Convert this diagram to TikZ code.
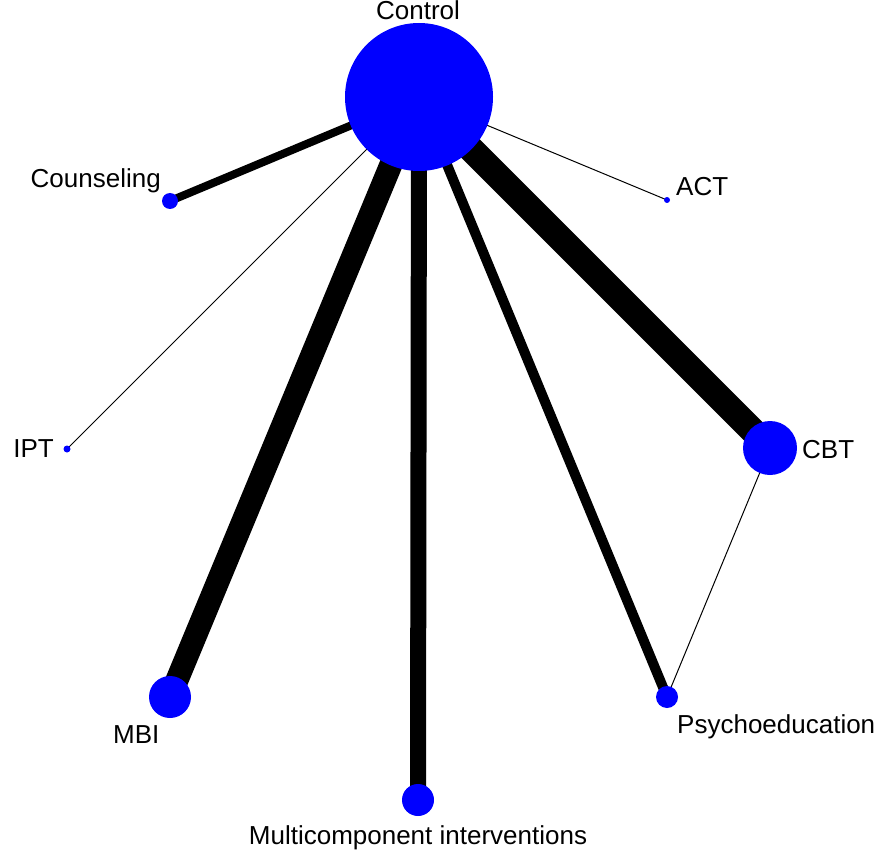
\documentclass[tikz,border=0pt]{standalone}
\usepackage{fontspec}
\setmainfont{Liberation Sans}
\usepackage{tikz}
\usetikzlibrary{positioning}
\pgfdeclarelayer{background}
\pgfsetlayers{background,main}

\begin{document}
\begin{tikzpicture}[x=1pt, y=-1pt,
    trt/.style={circle, fill=blue, inner sep=0pt},
    lbl/.style={font=\fontsize{26}{30}\selectfont, inner sep=0pt}]
    \useasboundingbox (0,0) rectangle (886,853);

    % treatments on a circle
    \node[trt, minimum size=148pt] (control) at (419,97) {};
    \node[trt, minimum size=16pt] (counseling) at (170,201) {};
    \node[trt, minimum size=6pt] (act) at (667,200) {};
    \node[trt, minimum size=7pt] (ipt) at (67,449) {};
    \node[trt, minimum size=54pt] (cbt) at (770,448) {};
    \node[trt, minimum size=42pt] (mbi) at (170,697) {};
    \node[trt, minimum size=32pt] (multi) at (418,800) {};
    \node[trt, minimum size=22pt] (psycho) at (667,697) {};

    % labels
    \node[lbl, anchor=base] (controllbl) at (418,20) {Control};
    \node[lbl, anchor=base east] (counselinglbl) at (161,188) {Counseling};
    \node[lbl, anchor=base west] (actlbl) at (676,196) {ACT};
    \node[lbl, anchor=base east] (iptlbl) at (54,457) {IPT};
    \node[lbl, anchor=base west] (cbtlbl) at (802,458) {CBT};
    \node[lbl, anchor=base west] (mbilbl) at (113,743) {MBI};
    \node[lbl, anchor=base] (multilbl) at (418,844) {Multicomponent interventions};
    \node[lbl, anchor=base west] (psycholbl) at (677,733) {Psychoeducation};

    % comparisons
    \begin{pgfonlayer}{background}
        \draw[line width=8pt] (control.center) -- (counseling.center);
        \draw[line width=1pt] (control.center) -- (act.center);
        \draw[line width=1pt] (control.center) -- (ipt.center);
        \draw[line width=26pt] (control.center) -- (cbt.center);
        \draw[line width=23pt] (control.center) -- (mbi.center);
        \draw[line width=16pt] (control.center) -- (multi.center);
        \draw[line width=10pt] (control.center) -- (psycho.center);
        \draw[line width=1pt] (cbt.center) -- (psycho.center);
    \end{pgfonlayer}
\end{tikzpicture}
\end{document}
